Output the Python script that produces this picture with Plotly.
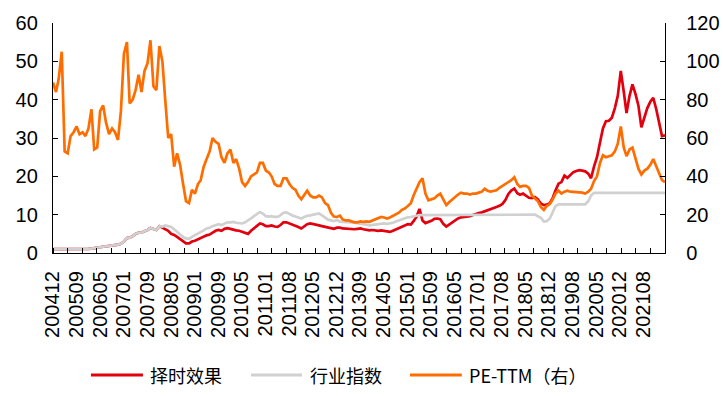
import pandas as pd
import plotly.graph_objects as go

# ---- data (monthly) ----
months = (pd.date_range("2005-01-01", periods=208, freq="MS") - pd.Timedelta(days=1))

timing = [
    1.0, 1.0, 1.05, 1.0, 0.95, 0.95, 1.0, 1.0, 1.05, 1.05, 1.05, 1.05, 1.1,
    1.15, 1.3, 1.45, 1.6, 1.7, 1.75, 1.85, 1.95, 2.0, 2.2, 2.4, 3.0,
    3.9, 4.0, 4.4, 5.0, 5.3, 5.3, 5.7, 6.0, 6.5, 6.3, 6.0, 7.0,
    6.6, 6.2, 5.8, 5.0, 4.7, 4.2, 3.6, 3.0, 2.5, 2.5, 3.0, 3.2,
    3.6, 3.8, 4.2, 4.6, 4.8, 5.4, 5.8, 6.0, 5.8, 6.3, 6.5, 6.3,
    6.0, 5.9, 5.8, 5.5, 5.2, 5.0, 5.8, 6.4, 7.0, 7.7, 7.5, 7.0,
    7.0, 7.2, 6.9, 6.8, 7.3, 8.0, 8.0, 7.7, 7.6, 7.3, 6.8, 6.4,
    7.0, 7.5, 7.7, 7.5, 7.2, 7.2, 7.0, 6.8, 6.5, 6.4, 6.3, 6.6,
    6.6, 6.4, 6.3, 6.4, 6.3, 6.2, 6.3, 6.4, 6.2, 6.0, 5.9, 6.0,
    5.9, 5.8, 5.9, 5.8, 5.6, 5.5, 5.8, 6.2, 6.6, 6.9, 7.2, 7.5,
    7.4, 8.3, 9.5, 11.5, 8.5, 7.8, 8.0, 8.4, 8.9, 9.0, 8.8, 7.6,
    6.9, 7.4, 7.8, 8.5, 9.0, 9.3, 9.4, 9.4, 9.6, 9.9, 10.2, 10.4,
    10.6, 10.9, 11.2, 11.4, 11.7, 12.0, 12.3, 12.8, 13.8, 15.4, 16.3, 16.8,
    15.6, 15.2, 15.5, 15.0, 14.4, 14.3, 14.6, 14.0, 12.9, 12.5, 12.6, 13.0,
    14.4, 16.3, 18.1, 18.5, 20.2, 19.6, 20.3, 21.1, 21.4, 21.6, 21.5, 21.3,
    20.7, 19.5, 22.6, 25.0, 28.8, 32.5, 34.4, 34.5, 35.3, 37.8, 41.0, 47.5,
    42.0, 36.5, 41.0, 44.0, 41.5, 38.5, 32.8, 35.5, 37.8, 39.5, 40.5, 37.5,
    34.0, 30.5, 30.7,
]

industry = [
    1.0, 1.0, 1.05, 1.0, 0.95, 0.95, 1.0, 1.0, 1.05, 1.05, 1.05, 1.05, 1.1,
    1.15, 1.3, 1.45, 1.6, 1.7, 1.75, 1.85, 1.95, 2.0, 2.2, 2.4, 3.0,
    3.9, 4.0, 4.4, 5.0, 5.3, 5.3, 5.7, 6.0, 6.5, 6.3, 6.0, 7.0,
    6.9, 7.2, 7.0, 6.8, 6.2, 5.5, 4.8, 4.2, 3.8, 3.7, 4.2, 4.6,
    5.1, 5.4, 5.9, 6.4, 6.6, 7.0, 7.2, 7.5, 7.3, 7.7, 8.0, 8.0,
    8.1, 7.9, 7.8, 7.7, 8.0, 8.4, 9.0, 9.6, 10.2, 10.7, 10.3, 9.6,
    9.5, 9.6, 9.4, 9.4, 9.9, 10.5, 10.6, 10.1, 9.8, 9.5, 9.2, 9.0,
    9.4, 9.7, 9.8, 10.0, 10.2, 10.3, 9.8, 9.2, 8.7, 8.5, 8.3, 8.6,
    8.2, 8.1, 8.1, 8.1, 8.0, 7.9, 7.8, 7.7, 7.6, 7.4, 7.2, 7.3,
    7.5, 7.6, 7.7, 7.7, 7.6, 7.7, 7.9, 8.2, 8.5, 8.7, 9.0, 9.3,
    9.4, 9.6, 9.8, 9.9, 9.9, 9.9, 9.9, 9.9, 9.9, 9.9, 9.9, 9.9,
    9.9, 9.9, 9.9, 9.9, 9.9, 9.9, 9.9, 9.9, 9.9, 9.9, 9.9, 9.9,
    9.9, 9.9, 9.9, 9.9, 9.9, 9.9, 9.9, 9.9, 9.9, 9.9, 9.9, 9.9,
    9.9, 9.9, 9.9, 9.9, 9.9, 9.9, 10.0, 9.6, 9.2, 8.2, 8.3, 9.0,
    10.8, 12.2, 12.7, 12.7, 12.7, 12.7, 12.7, 12.7, 12.7, 12.7, 12.7, 12.7,
    13.5, 15.0, 15.7, 15.7, 15.7, 15.7, 15.7, 15.7, 15.7, 15.7, 15.7, 15.7,
    15.7, 15.7, 15.7, 15.7, 15.7, 15.7, 15.7, 15.7, 15.7, 15.7, 15.7, 15.7,
    15.7, 15.7, 15.7,
]

pe_ttm = [
    89, 84, 91, 105, 53, 52, 61, 63, 66, 62, 63, 61, 65,
    75, 54, 55, 74, 77, 68, 62, 65, 63, 59, 74, 104,
    110, 78, 80, 85, 93, 84, 95, 99, 111, 87, 85, 108,
    100, 80, 60, 62, 45, 52, 46, 36, 27, 26, 33, 31,
    36, 38, 45, 49, 53, 60, 58, 57, 50, 47, 52, 54,
    47, 49, 44, 37, 35, 37, 40, 41, 42, 47, 47, 43,
    42, 40, 36, 35, 35, 39, 39, 36, 34, 33, 30, 28,
    30, 32.5, 30, 29, 29, 30, 29, 26, 25, 21, 19, 18.8,
    19.5, 17.5, 17, 17, 16.5, 16, 16, 16.5, 16.2, 16.5, 16.3, 17,
    17.5, 18.3, 18.8, 18.5, 18, 18.5, 19.5, 20.5, 21, 22.5, 23.2, 24.5,
    26, 30, 34, 37, 39, 31, 27.5, 28, 28.5, 30, 31, 28,
    25, 26.5, 28, 29.2, 30.5, 31.5, 31, 31, 30.5, 31, 31, 31.5,
    32, 33.5, 32.5, 32, 32.5, 32.7, 34, 35, 36, 37, 38, 39.5,
    36, 34.5, 35, 35, 34, 30, 28.5, 27, 24, 22.5, 24.5, 25.5,
    28, 31, 32.5, 31, 32, 32.5, 32, 31.8, 32, 31.8, 31.5, 31,
    32, 33.5, 37.5, 40, 47, 51, 50, 50.5, 51, 53, 57, 66,
    55, 50.5, 54, 55, 50, 44, 41, 43, 44, 46, 49, 45,
    41, 38, 37,
]

tick_labels = [
    "200412", "200509", "200605", "200701", "200709", "200805", "200901",
    "200909", "201005", "201101", "201108", "201205", "201212", "201309",
    "201405", "201501", "201509", "201605", "201701", "201708", "201805",
    "201812", "201908", "202005", "202012", "202108",
]

names = ["择时效果", "行业指数", "PE-TTM（右）"]
colors = ["#E2000F", "#D0D0D0", "#FF6D00"]

# label positions: evenly spaced like the category axis labels
tick_pos = pd.date_range(months[0], periods=len(tick_labels), freq="243D")
minor_pos = pd.date_range(months[0], months[-1] + pd.Timedelta(days=2), freq="150D")

fig = go.Figure()
fig.add_trace(go.Scatter(x=months, y=timing, name=names[0], mode="lines",
                         line=dict(color=colors[0], width=2.7), yaxis="y"))
fig.add_trace(go.Scatter(x=months, y=industry, name=names[1], mode="lines",
                         line=dict(color=colors[1], width=2.7), yaxis="y"))
fig.add_trace(go.Scatter(x=months, y=pe_ttm, name=names[2], mode="lines",
                         line=dict(color=colors[2], width=2.7), yaxis="y2"))

tick_font = dict(family="Liberation Sans, Arial, sans-serif", size=20, color="#000000")

fig.update_layout(
    width=723, height=396,
    margin=dict(l=53, r=58, t=23, b=143, autoexpand=False),
    paper_bgcolor="white", plot_bgcolor="white",
    showlegend=False,
    xaxis=dict(
        type="date", automargin=False,
        range=[months[0], months[-1]],
        tickmode="array", tickvals=list(tick_pos), ticktext=tick_labels,
        tickangle=-90, tickfont=tick_font, ticks="",
        ticklabelstandoff=9,
        showgrid=False, zeroline=False,
        showline=True, linecolor="black", linewidth=1.3,
        minor=dict(tickmode="array", tickvals=list(minor_pos), ticks="inside",
                   ticklen=5, tickwidth=1.2, tickcolor="black", showgrid=False),
    ),
    yaxis=dict(
        range=[0, 60], dtick=10, tick0=0, automargin=False,
        tickfont=tick_font, ticks="inside", ticklen=5, tickwidth=1.2, tickcolor="black",
        showgrid=False, zeroline=False,
        showline=True, linecolor="black", linewidth=1.3,
        ticklabelstandoff=10,
    ),
    yaxis2=dict(
        range=[0, 120], dtick=20, tick0=0, overlaying="y", side="right", automargin=False,
        tickfont=tick_font, ticks="inside", ticklen=5, tickwidth=1.2, tickcolor="black",
        showgrid=False, zeroline=False,
        showline=True, linecolor="black", linewidth=1.3,
        ticklabelstandoff=16,
    ),
)

# custom legend with long line samples
legend_y = -0.53
legend_items = [(0.062, 0.147, 0.155), (0.3235, 0.407, 0.4167), (0.5833, 0.668, 0.6765)]
for (x0, x1, xt), name, col in zip(legend_items, names, colors):
    fig.add_shape(type="line", xref="paper", yref="paper", x0=x0, x1=x1,
                  y0=legend_y, y1=legend_y, line=dict(color=col, width=3))
    fig.add_annotation(xref="paper", yref="paper", x=xt, y=legend_y, text=name,
                       showarrow=False, xanchor="left", yanchor="middle",
                       font=dict(family="Noto Sans CJK SC, sans-serif", size=18, color="#000000"))

fig.write_html("out.html", config={"displayModeBar": False},
               post_script="document.body.style.margin='0';document.body.style.overflow='hidden';")
